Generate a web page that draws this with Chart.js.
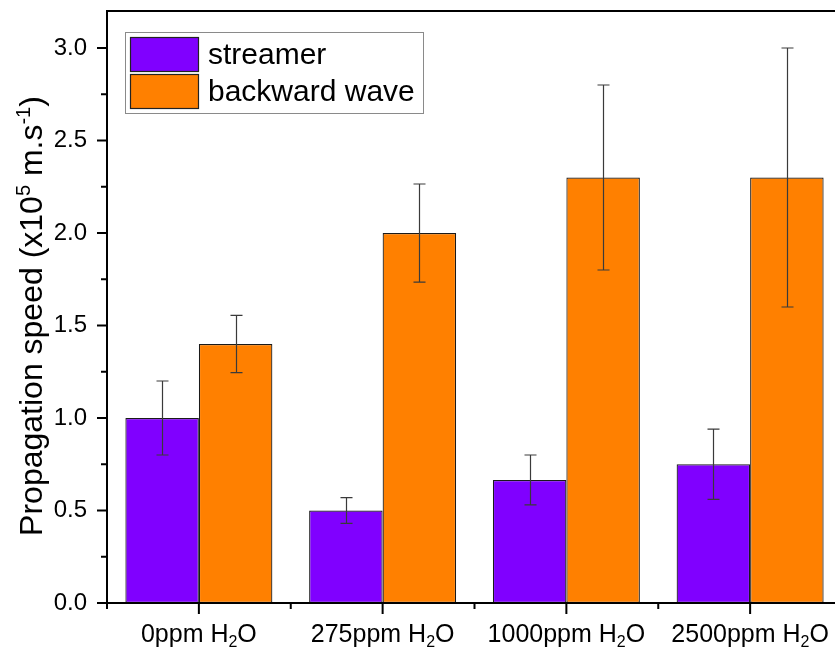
<!DOCTYPE html>
<html>
<head>
<meta charset="utf-8">
<script src="https://cdn.jsdelivr.net/npm/chart.js@4.4.1/dist/chart.umd.min.js"></script>
<style>
  html, body { margin: 0; padding: 0; background: #fff; overflow: hidden; }
  #wrap { width: 835px; height: 650px; overflow: hidden; position: relative; }
  canvas { position: absolute; left: 0; top: 0; }
</style>
</head>
<body>
<div id="wrap"><canvas id="c" width="850" height="650"></canvas></div>
<script>
// ---- data ----
const categories = ['0ppm H₂O', '275ppm H₂O', '1000ppm H₂O', '2500ppm H₂O'];
const seriesNames = ['streamer', 'backward wave'];
const streamerValues = [1.0, 0.5, 0.665, 0.75];
const streamerErrors = [0.2, 0.07, 0.135, 0.19];
const backwardValues = [1.4, 2.0, 2.3, 2.3];
const backwardErrors = [0.155, 0.265, 0.5, 0.7];
const yTickValues = [0, 0.5, 1.0, 1.5, 2.0, 2.5, 3.0];
const yTitle = 'Propagation speed (x10⁵ m.s⁻¹)';

const FONT = "'Liberation Sans', Arial, sans-serif";
const errorsByDataset = [streamerErrors, backwardErrors];

const SUB = {'₀':'0','₁':'1','₂':'2','₃':'3','₄':'4','₅':'5','₆':'6','₇':'7','₈':'8','₉':'9'};
const SUP = {'⁰':'0','¹':'1','²':'2','³':'3','⁴':'4','⁵':'5','⁶':'6','⁷':'7','⁸':'8','⁹':'9','⁻':'-'};

function segments(text) {
  const segs = [];
  for (const ch of text) {
    let kind = 'n', c = ch;
    if (SUB[ch]) { kind = 'sub'; c = SUB[ch]; }
    else if (SUP[ch]) { kind = 'sup'; c = SUP[ch]; }
    const last = segs[segs.length - 1];
    if (last && last.kind === kind) last.t += c; else segs.push({kind, t: c});
  }
  return segs;
}
function richWidth(ctx, segs, size) {
  let w = 0;
  for (const s of segs) {
    ctx.font = (s.kind === 'n' ? size : Math.round(size * 0.62)) + 'px ' + FONT;
    w += ctx.measureText(s.t).width;
  }
  return w;
}
function drawRich(ctx, text, x, y, size) {
  const segs = segments(text);
  const w = richWidth(ctx, segs, size);
  let cx = x - w / 2;
  ctx.textAlign = 'left';
  ctx.textBaseline = 'alphabetic';
  for (const s of segs) {
    const sz = s.kind === 'n' ? size : Math.round(size * 0.62);
    ctx.font = sz + 'px ' + FONT;
    let dy = 0;
    if (s.kind === 'sub') dy = size * 0.2;
    if (s.kind === 'sup') dy = -size * 0.38;
    ctx.fillText(s.t, cx, y + dy);
    cx += ctx.measureText(s.t).width;
  }
}

const customPlugin = {
  id: 'custom',
  afterDatasetsDraw(chart) {
    const ctx = chart.ctx;
    const ys = chart.scales.y;
    ctx.save();
    ctx.strokeStyle = '#3a3a3a';
    ctx.lineWidth = 1.2;
    chart.data.datasets.forEach((ds, i) => {
      const meta = chart.getDatasetMeta(i);
      const errs = errorsByDataset[i];
      meta.data.forEach((el, j) => {
        const v = ds.data[j], e = errs[j];
        const x = Math.round(el.x) + 0.5;
        const yt = ys.getPixelForValue(v + e);
        const yb = ys.getPixelForValue(v - e);
        ctx.beginPath();
        ctx.moveTo(x, yt); ctx.lineTo(x, yb);
        ctx.moveTo(x - 6, yt); ctx.lineTo(x + 6, yt);
        ctx.moveTo(x - 6, yb); ctx.lineTo(x + 6, yb);
        ctx.stroke();
      });
    });
    ctx.restore();
  },
  afterDraw(chart) {
    const ctx = chart.ctx;
    const a = chart.chartArea;
    const xs = chart.scales.x, ys = chart.scales.y;
    ctx.save();
    ctx.strokeStyle = '#000';
    ctx.fillStyle = '#000';
    ctx.lineWidth = 2;
    // frame lines
    ctx.beginPath();
    ctx.moveTo(a.left, a.top); ctx.lineTo(chart.width, a.top);
    ctx.moveTo(a.left, a.top - 1); ctx.lineTo(a.left, a.bottom + 1);
    ctx.moveTo(a.left - 1, a.bottom); ctx.lineTo(chart.width, a.bottom);
    ctx.stroke();
    // y ticks (major + minor)
    ctx.beginPath();
    for (let k = 0; k < yTickValues.length; k++) {
      const y = ys.getPixelForValue(yTickValues[k]);
      ctx.moveTo(a.left, y); ctx.lineTo(a.left - 10, y);
      if (k < yTickValues.length - 1) {
        const ym = ys.getPixelForValue((yTickValues[k] + yTickValues[k + 1]) / 2);
        ctx.moveTo(a.left, ym); ctx.lineTo(a.left - 6, ym);
      }
    }
    // x ticks
    categories.forEach((c, i) => {
      const x = xs.getPixelForValue(i);
      ctx.moveTo(x, a.bottom); ctx.lineTo(x, a.bottom + 11);
      const xb = xs.getPixelForValue(i - 0.5);
      ctx.moveTo(xb, a.bottom); ctx.lineTo(xb, a.bottom + 6);
    });
    ctx.stroke();
    // x labels
    categories.forEach((c, i) => {
      drawRich(ctx, c, xs.getPixelForValue(i), 642, 25);
    });
    // y title
    ctx.save();
    ctx.translate(42, 316);
    ctx.rotate(-Math.PI / 2);
    drawRich(ctx, yTitle, 0, 0, 32);
    ctx.restore();
    // legend
    const lx = 125, ly = 32, lw = 298, lh = 81;
    ctx.fillStyle = '#fff';
    ctx.fillRect(lx, ly, lw, lh);
    ctx.strokeStyle = '#8a8a8a';
    ctx.lineWidth = 1;
    ctx.strokeRect(lx + 0.5, ly + 0.5, lw, lh);
    chart.data.datasets.forEach((ds, i) => {
      const sy = 37 + i * 37;
      ctx.fillStyle = ds.backgroundColor;
      ctx.fillRect(130, sy, 68, 34);
      ctx.strokeStyle = '#222';
      ctx.lineWidth = 1.2;
      ctx.strokeRect(130.5, sy + 0.5, 68, 34);
      ctx.fillStyle = '#000';
      ctx.font = '30px ' + FONT;
      ctx.textAlign = 'left';
      ctx.textBaseline = 'alphabetic';
      ctx.fillText(ds.label, 208, 64 + i * 37);
    });
    ctx.restore();
  }
};

new Chart(document.getElementById('c'), {
  type: 'bar',
  data: {
    labels: categories,
    datasets: [
      { label: seriesNames[0], data: streamerValues, backgroundColor: '#8000FF', borderColor: '#1a1a1a', borderWidth: 1.2, borderSkipped: false },
      { label: seriesNames[1], data: backwardValues, backgroundColor: '#FF8000', borderColor: '#1a1a1a', borderWidth: 1.2, borderSkipped: false }
    ]
  },
  options: {
    responsive: false,
    devicePixelRatio: 1,
    animation: false,
    layout: { padding: { left: 0, top: 11, right: 8, bottom: 0 } },
    datasets: { bar: { categoryPercentage: 0.8, barPercentage: 1.0 } },
    plugins: { legend: { display: false }, tooltip: { enabled: false } },
    scales: {
      x: {
        offset: true,
        grid: { display: false, drawTicks: false },
        border: { display: false },
        ticks: { display: false },
        afterFit(s) { s.height = 47; s.paddingLeft = 0; s.paddingRight = 0; }
      },
      y: {
        min: 0, max: 3.2,
        grid: { display: false, drawTicks: true, tickLength: 10 },
        border: { display: false },
        afterBuildTicks(s) { s.ticks = yTickValues.map(v => ({ value: v })); },
        ticks: {
          padding: 10,
          color: '#000',
          font: { family: FONT, size: 24 },
          callback: v => Number(v).toFixed(1)
        },
        afterFit(s) { s.width = 107; s.paddingTop = 0; s.paddingBottom = 0; }
      }
    }
  },
  plugins: [customPlugin]
});
</script>
</body>
</html>
